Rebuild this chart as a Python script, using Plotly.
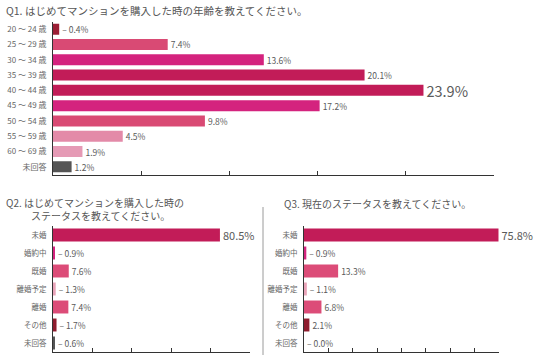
import plotly.graph_objects as go

# ---- data ----
q1_categories = ["20 ～ 24 歳", "25 ～ 29 歳", "30 ～ 34 歳", "35 ～ 39 歳", "40 ～ 44 歳",
                 "45 ～ 49 歳", "50 ～ 54 歳", "55 ～ 59 歳", "60 ～ 69 歳", "未回答"]
q1_values = [0.4, 7.4, 13.6, 20.1, 23.9, 17.2, 9.8, 4.5, 1.9, 1.2]

status_categories = ["未婚", "婚約中", "既婚", "離婚予定", "離婚", "その他", "未回答"]
q2_values = [80.5, 0.9, 7.6, 1.3, 7.4, 1.7, 0.6]
q3_values = [75.8, 0.9, 13.3, 1.1, 6.8, 2.1, 0.0]

q1_title = "Q1. はじめてマンションを購入した時の年齢を教えてください。"
q2_title_line1 = "Q2. はじめてマンションを購入した時の"
q2_title_line2 = "ステータスを教えてください。"
q3_title = "Q3. 現在のステータスを教えてください。"

# ---- styles ----
FONT = "Noto Sans CJK JP, Noto Sans, sans-serif"
TXT = "#5a5a5a"
q1_colors = ["#9C1F35", "#D94A74", "#D4237E", "#C21C58", "#C21C58",
             "#D4237E", "#D94A74", "#E38AA8", "#E59AB5", "#555555"]
st_colors = ["#C21C58", "#D4237E", "#DC4C78", "#E8A3B8", "#DC4C78", "#8E1C2E", "#555555"]

q1_leader = [True, False, False, False, False, False, False, False, False, False]
q2_leader = [False, True, False, True, False, True, True]
q3_leader = [False, True, False, True, False, False, True]
q1_sizes = [8.5] * 10
q1_sizes[4] = 14.5
q2_sizes = [11] + [8.5] * 6
q3_sizes = [11] + [8.5] * 6


def labels(vals, leaders):
    return [("– " if l else "") + f"{v:.1f}%" for v, l in zip(vals, leaders)]


W, H = 536, 355


def px_x(p):
    return p / W


def px_y(p):
    return 1 - p / H


fig = go.Figure()

fig.add_trace(go.Bar(
    x=q1_values, y=q1_categories, orientation="h",
    marker=dict(color=q1_colors, line=dict(width=0)),
    text=labels(q1_values, q1_leader), textposition="outside",
    textfont=dict(size=q1_sizes, color=TXT, family=FONT),
    constraintext="none", cliponaxis=False,
    xaxis="x", yaxis="y", hoverinfo="skip",
))
fig.add_trace(go.Bar(
    x=q2_values, y=status_categories, orientation="h",
    marker=dict(color=st_colors, line=dict(width=0)),
    text=labels(q2_values, q2_leader), textposition="outside",
    textfont=dict(size=q2_sizes, color=TXT, family=FONT),
    constraintext="none", cliponaxis=False,
    xaxis="x2", yaxis="y2", hoverinfo="skip",
))
fig.add_trace(go.Bar(
    x=q3_values, y=status_categories, orientation="h",
    marker=dict(color=st_colors, line=dict(width=0)),
    text=labels(q3_values, q3_leader), textposition="outside",
    textfont=dict(size=q3_sizes, color=TXT, family=FONT),
    constraintext="none", cliponaxis=False,
    xaxis="x3", yaxis="y3", hoverinfo="skip",
))

q1_max = 28.45
q2_max = 95.0
q3_max = 76.0


def xaxis(domain, rng, ticks, anchor):
    return dict(domain=domain, range=[0, rng], anchor=anchor,
                tickvals=ticks, showticklabels=False, ticks="inside",
                ticklen=4, tickcolor="#333", tickwidth=1,
                showline=True, linecolor="#333", linewidth=1,
                showgrid=False, zeroline=False, fixedrange=True)


def yaxis(domain, anchor, size):
    return dict(domain=domain, anchor=anchor, autorange="reversed",
                showline=True, linecolor="#333", linewidth=1,
                ticks="", showgrid=False, zeroline=False,
                tickfont=dict(size=size, color="#666", family=FONT),
                ticklabelstandoff=4, fixedrange=True)


def title(text, x, y, size):
    return dict(text=text, x=px_x(x), y=px_y(y), xref="paper", yref="paper",
                xanchor="left", yanchor="middle", showarrow=False,
                font=dict(size=size, color="#555", family=FONT))


fig.update_layout(
    width=W, height=H,
    margin=dict(l=0, r=0, t=0, b=0),
    paper_bgcolor="white", plot_bgcolor="white",
    showlegend=False, bargap=0.28,
    font=dict(family=FONT, color=TXT),
    xaxis=xaxis([px_x(53), px_x(494)], q1_max, [q1_max / 5 * i for i in range(1, 6)], "y"),
    yaxis=yaxis([px_y(174.5), px_y(21.5)], "x", 8),
    xaxis2=xaxis([px_x(53), px_x(250)], q2_max, [q2_max / 5 * i for i in range(1, 6)], "y2"),
    yaxis2=yaxis([px_y(352), px_y(226)], "x2", 7.5),
    xaxis3=xaxis([px_x(304), px_x(499)], q3_max, [q3_max / 8 * i for i in range(1, 9)], "y3"),
    yaxis3=yaxis([px_y(352), px_y(226)], "x3", 7.5),
    annotations=[
        title(q1_title, 4, 11, 10.5),
        title(q2_title_line1, 4, 202, 10),
        title(q2_title_line2, 29, 215, 10),
        title(q3_title, 282, 203, 10),
    ],
    shapes=[
        dict(type="line", xref="paper", yref="paper",
             x0=px_x(263), x1=px_x(263), y0=px_y(207), y1=0,
             line=dict(color="#9a9a9a", width=1)),
    ],
)

fig.write_html("out.html", config={"displayModeBar": False},
               post_script="document.body.style.margin='0';")
